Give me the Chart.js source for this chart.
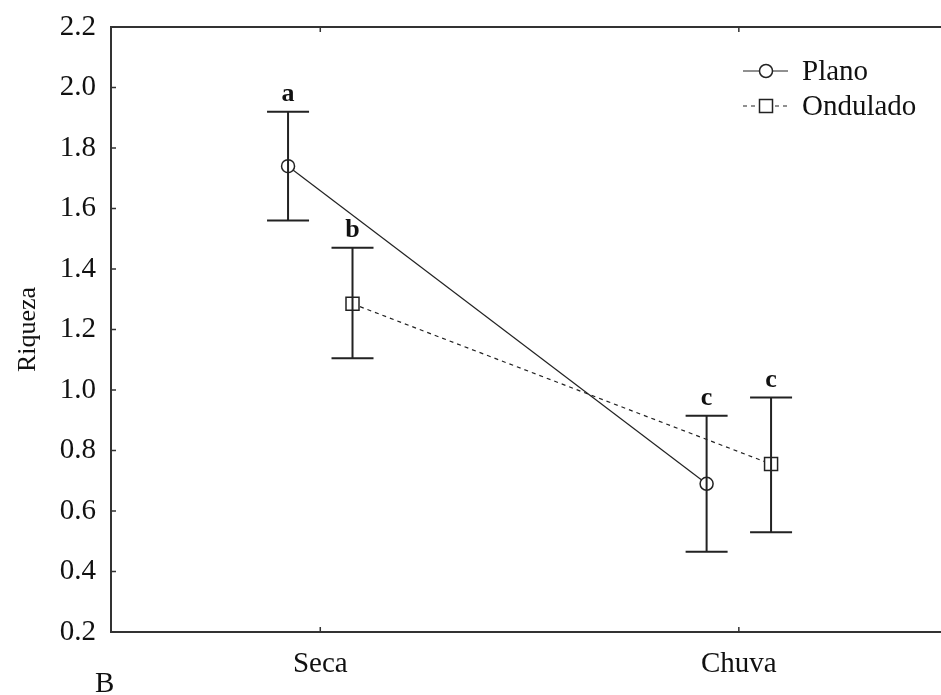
<!DOCTYPE html>
<html>
<head>
<meta charset="utf-8">
<script src="https://cdn.jsdelivr.net/npm/chart.js@4"></script>
<style>
  html, body { margin: 0; padding: 0; background: #fff; overflow: hidden; }
  #wrap { width: 941px; height: 695px; }
  #myChart { display: block; width: 941px; height: 695px; }
</style>
</head>
<body>
<div id="wrap"><canvas id="myChart" width="941" height="695"></canvas></div>
<script>
var categories = ['Seca', 'Chuva']
var yTicks = [0.2, 0.4, 0.6, 0.8, 1.0, 1.2, 1.4, 1.6, 1.8, 2.0, 2.2]

var plano = [1.74, 0.69]
var planoLow = [1.56, 0.465]
var planoHigh = [1.92, 0.915]
var planoLetters = ['a', 'c']

var ondulado = [1.285, 0.755]
var onduladoLow = [1.105, 0.53]
var onduladoHigh = [1.47, 0.975]
var onduladoLetters = ['b', 'c']

var shift = 0.077
var serif = '"Liberation Serif", "Times New Roman", serif'
var ink = '#222'

function points(vals, dx){
    return vals.map(function(v, i){ return {x: i + dx, y: v} })
}

function noPadding(scale){
    scale.paddingLeft = 0
    scale.paddingRight = 0
    scale.paddingTop = 0
    scale.paddingBottom = 0
}

var extras = {
    id: 'extras',
    afterDatasetsDraw: function(chart){
        var ctx = chart.ctx
        var xs = chart.scales.x, ys = chart.scales.y
        ctx.save()

        // error bars + letters
        var groups = [
            {dx: -shift, low: planoLow, high: planoHigh, letters: planoLetters},
            {dx: shift, low: onduladoLow, high: onduladoHigh, letters: onduladoLetters}
        ]
        ctx.strokeStyle = ink
        ctx.lineWidth = 2
        ctx.fillStyle = '#111'
        ctx.font = 'bold 26px ' + serif
        ctx.textAlign = 'center'
        ctx.textBaseline = 'alphabetic'
        groups.forEach(function(g){
            categories.forEach(function(c, i){
                var px = xs.getPixelForValue(i + g.dx)
                var top = ys.getPixelForValue(g.high[i])
                var bot = ys.getPixelForValue(g.low[i])
                ctx.beginPath()
                ctx.moveTo(px, top); ctx.lineTo(px, bot)
                ctx.moveTo(px - 21, top); ctx.lineTo(px + 21, top)
                ctx.moveTo(px - 21, bot); ctx.lineTo(px + 21, bot)
                ctx.stroke()
                ctx.fillText(g.letters[i], px, top - 11)
            })
        })
        ctx.restore()
    },
    afterDraw: function(chart){
        var ctx = chart.ctx
        var xs = chart.scales.x, ys = chart.scales.y
        var area = chart.chartArea
        ctx.save()
        ctx.strokeStyle = '#333'
        ctx.lineWidth = 2
        // top frame line
        ctx.beginPath()
        ctx.moveTo(area.left, area.top); ctx.lineTo(area.right, area.top)
        ctx.stroke()
        // inward ticks
        ctx.lineWidth = 1.5
        ctx.beginPath()
        yTicks.forEach(function(v){
            var py = ys.getPixelForValue(v)
            ctx.moveTo(area.left, py); ctx.lineTo(area.left + 5, py)
        })
        categories.forEach(function(c, i){
            var px = xs.getPixelForValue(i)
            ctx.moveTo(px, area.bottom); ctx.lineTo(px, area.bottom - 5)
            ctx.moveTo(px, area.top); ctx.lineTo(px, area.top + 5)
        })
        ctx.stroke()

        // legend
        var lx0 = 743, lx1 = 788, mid = 766
        var rows = [
            {y: 71, label: 'Plano', dash: [], style: 'circle'},
            {y: 106, label: 'Ondulado', dash: [4, 4], style: 'rect'}
        ]
        ctx.font = '29px ' + serif
        ctx.textAlign = 'left'
        ctx.textBaseline = 'middle'
        rows.forEach(function(r){
            ctx.strokeStyle = ink
            ctx.lineWidth = 1.2
            ctx.setLineDash(r.dash)
            ctx.beginPath()
            ctx.moveTo(lx0, r.y); ctx.lineTo(lx1, r.y)
            ctx.stroke()
            ctx.setLineDash([])
            ctx.fillStyle = '#fff'
            ctx.lineWidth = 1.5
            ctx.beginPath()
            if (r.style === 'circle') ctx.arc(mid, r.y, 6.5, 0, Math.PI * 2)
            else ctx.rect(mid - 6.5, r.y - 6.5, 13, 13)
            ctx.fill(); ctx.stroke()
            ctx.fillStyle = '#111'
            ctx.fillText(r.label, 802, r.y + 1)
        })

        // panel letter
        ctx.font = '29px ' + serif
        ctx.textAlign = 'left'
        ctx.textBaseline = 'alphabetic'
        ctx.fillText('B', 95, 692)
        ctx.restore()
    }
}

let myChart = document.getElementById('myChart').getContext('2d')
let chart = new Chart(myChart, {
    type: 'scatter',
    data: {
        datasets: [{
            label: 'Plano',
            data: points(plano, -shift),
            showLine: true,
            borderColor: ink,
            borderWidth: 1.2,
            pointStyle: 'circle',
            pointRadius: 6.5,
            pointBorderWidth: 1.5,
            pointBackgroundColor: '#fff',
            pointBorderColor: ink
        }, {
            label: 'Ondulado',
            data: points(ondulado, shift),
            showLine: true,
            borderColor: ink,
            borderWidth: 1.2,
            borderDash: [4, 4],
            pointStyle: 'rect',
            pointRadius: 9.2,
            pointBorderWidth: 1.5,
            pointBackgroundColor: '#fff',
            pointBorderColor: ink
        }]
    },
    options: {
        responsive: false,
        animation: false,
        layout: {
            autoPadding: false,
            padding: { left: 0, right: 0, top: 27, bottom: 0 }
        },
        plugins: {
            legend: { display: false },
            tooltip: { enabled: false }
        },
        scales: {
            x: {
                type: 'linear',
                min: -0.5,
                max: 1.483,
                afterBuildTicks: function(scale){
                    scale.ticks = categories.map(function(c, i){ return {value: i} })
                },
                afterFit: function(scale){
                    scale.height = 63
                    noPadding(scale)
                },
                grid: { display: false, drawTicks: false },
                border: { display: true, color: '#333', width: 2 },
                ticks: {
                    padding: 15,
                    color: '#111',
                    font: { family: serif, size: 29 },
                    callback: function(v){ return categories[v] }
                }
            },
            y: {
                min: 0.2,
                max: 2.2,
                afterBuildTicks: function(scale){
                    scale.ticks = yTicks.map(function(v){ return {value: v} })
                },
                afterFit: function(scale){
                    scale.width = 111
                    noPadding(scale)
                },
                grid: { display: false, drawTicks: false },
                border: { display: true, color: '#333', width: 2 },
                title: {
                    display: true,
                    text: 'Riqueza',
                    color: '#111',
                    font: { family: serif, size: 26 },
                    padding: { top: 13, bottom: 0 }
                },
                ticks: {
                    padding: 15,
                    color: '#111',
                    font: { family: serif, size: 29 },
                    callback: function(v){ return v.toFixed(1) }
                }
            }
        }
    },
    plugins: [extras]
})
</script>
</body>
</html>
